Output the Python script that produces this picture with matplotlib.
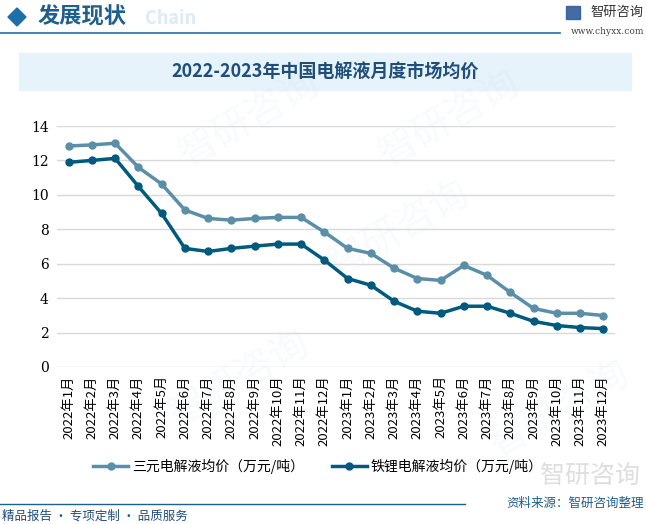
import matplotlib
matplotlib.use('Agg')
import matplotlib.pyplot as plt
from matplotlib.patches import Rectangle, Polygon

plt.rcParams['font.family'] = ['Noto Sans CJK SC', 'DejaVu Sans']

# ---------- DATA ----------
months = [f'2022年{i}月' for i in range(1, 13)] + [f'2023年{i}月' for i in range(1, 13)]
ternary = [12.84, 12.9, 13.0, 11.6, 10.63, 9.12, 8.63, 8.53, 8.63, 8.69, 8.69, 7.84,
           6.89, 6.6, 5.74, 5.14, 5.03, 5.9, 5.32, 4.33, 3.4, 3.12, 3.12, 2.99]
lfp = [11.89, 12.0, 12.12, 10.49, 8.92, 6.89, 6.71, 6.89, 7.02, 7.14, 7.14, 6.21,
       5.14, 4.75, 3.82, 3.24, 3.12, 3.53, 3.53, 3.12, 2.65, 2.41, 2.29, 2.23]
series_names = ['三元电解液均价（万元/吨）', '铁锂电解液均价（万元/吨）']
title = '2022-2023年中国电解液月度市场均价'

W, H = 646, 524
fig = plt.figure(figsize=(W / 100, H / 100), dpi=100)

# overlay axes in pixel coords for decorations
deco = fig.add_axes([0, 0, 1, 1], zorder=0)
deco.set_xlim(0, W)
deco.set_ylim(H, 0)
deco.axis('off')

# header
deco.add_patch(Polygon([[8, 17], [17, 8], [26, 17], [17, 26]], closed=True, color='#1E6FA8'))
deco.text(145, 18, 'Chain', fontsize=13, color='#DCEBF6', fontweight='bold', va='center')
deco.text(38, 17, '发展现状', fontsize=16, color='#1F5F8B', va='center', fontweight='bold')
deco.plot([0, 560], [32.5, 32.5], color='#1F6FA8', lw=1.2)
deco.add_patch(Rectangle((566, 6), 14, 13, color='#2E5C9E', alpha=0.9))
deco.text(590, 12, '智研咨询', fontsize=9.5, color='#333333', va='center')
deco.text(644, 32, 'www.chyxx.com', fontsize=6.5, color='#444444', va='center', ha='right',
          family=['DejaVu Serif'])

# title band
deco.add_patch(Rectangle((19, 53), 612, 37, color='#E6F3FB', zorder=0))
deco.text(325, 72, title, fontsize=13, color='#1F4E79', ha='center', va='center',
          fontweight='bold')

# watermarks
for (x, y) in [(240, 380), (400, 230), (250, 120), (450, 120), (560, 410)]:
    deco.text(x, y, '智研咨询', fontsize=28, color='#B0C4D6', alpha=0.08, rotation=30,
              ha='center', va='center')

# footer
deco.plot([0, 465], [503.5, 503.5], color='#1F5F8B', lw=1)
deco.text(590, 476, '智研咨询', fontsize=18, color='#C8C8C8', alpha=0.6, ha='center', va='center')
deco.text(644, 503, '资料来源：智研咨询整理', fontsize=9, color='#1F5F8B', ha='right', va='center')
deco.text(2, 516, '精品报告 · 专项定制 · 品质服务', fontsize=9, color='#1F4E79', ha='left', va='center')

# ---------- CHART ----------
ax = fig.add_axes([57 / W, 1 - 367 / H, (615 - 57) / W, (367 - 126) / H], zorder=2)
ax.patch.set_alpha(0)
x = range(len(months))
ax.plot(x, ternary, color='#5B8FA8', lw=2.5, marker='o', ms=5, label=series_names[0], zorder=3)
ax.plot(x, lfp, color='#005A7D', lw=2.5, marker='o', ms=5, label=series_names[1], zorder=3)

ax.set_xlim(-0.5, len(months) - 0.5)
ax.set_ylim(0, 14)
ax.set_yticks(range(0, 15, 2))
ax.set_yticklabels([str(v) for v in range(0, 15, 2)], fontsize=10, family=['DejaVu Serif'])
ax.set_xticks(list(x))
ax.set_xticklabels(months, rotation=90, fontsize=9.5)
ax.tick_params(length=0, pad=6)
ax.grid(axis='y', color='#D9D9D9', lw=1)
ax.set_axisbelow(True)
for s in ax.spines.values():
    s.set_visible(False)

leg = fig.legend(loc='center', bbox_to_anchor=(318 / W, 1 - 466 / H), ncol=2, frameon=False,
                 fontsize=10, handlelength=2.5, columnspacing=2.0, handletextpad=0.3)

fig.savefig('out.png', dpi=100)
